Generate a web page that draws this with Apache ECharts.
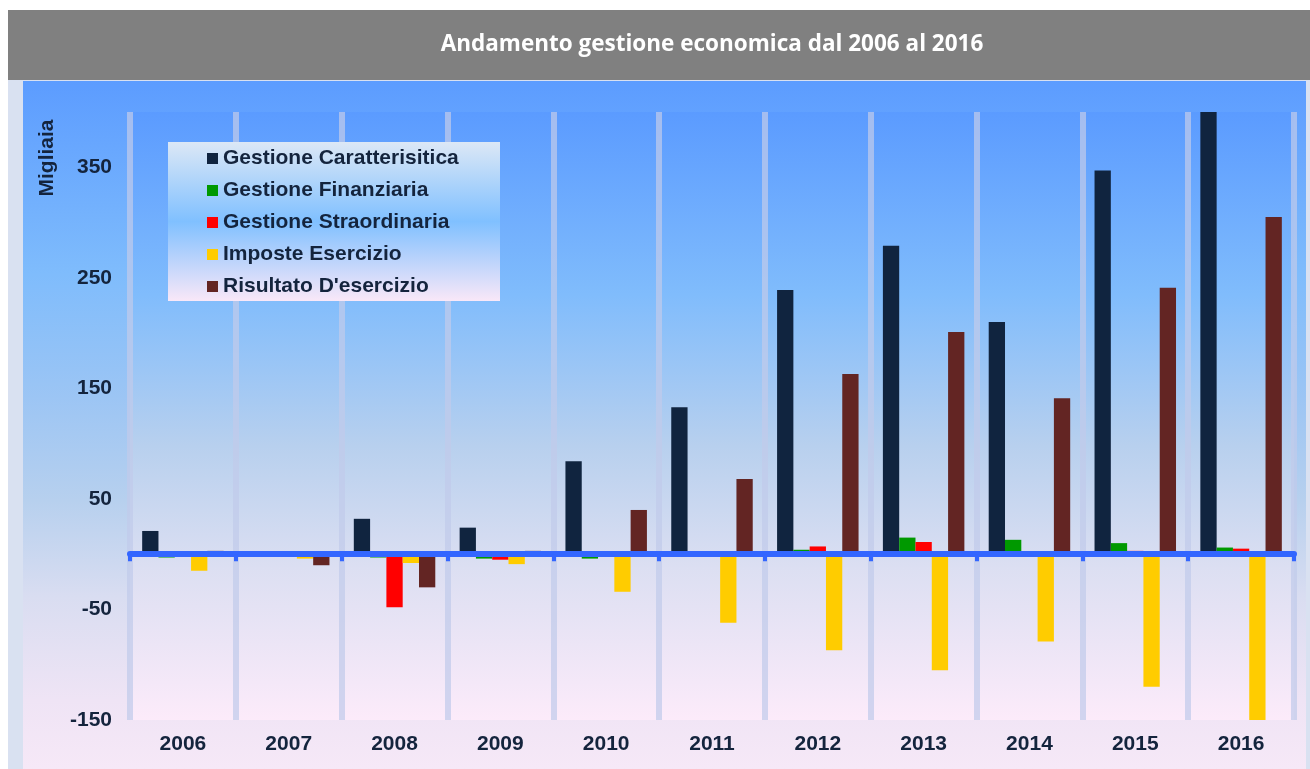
<!DOCTYPE html>
<html>
<head>
<meta charset="utf-8">
<script src="https://cdn.jsdelivr.net/npm/echarts@6/dist/echarts.min.js"></script>
<style>
html,body{margin:0;padding:0;background:#ffffff;}
#main{width:1310px;height:769px;}
</style>
</head>
<body>
<div id="main"></div>
<script>
var categories = ['2006','2007','2008','2009','2010','2011','2012','2013','2014','2015','2016'];
var gestioneCaratteristica = [21, -2, 32, 24, 84, 133, 239, 279, 210, 347, 440];
var gestioneFinanziaria   = [-3, -2, -3, -4, -4, -1, 4, 15, 13, 10, 6];
var gestioneStraordinaria = [0, 0, -48, -5, -1, 0, 7, 11, -2, 3, 5];
var imposteEsercizio      = [-15, -4, -8, -9, -34, -62, -87, -105, -79, -120, -150];
var risultatoEsercizio    = [3, -10, -30, 3, 40, 68, 163, 201, 141, 241, 305];
var seriesNames = ['Gestione Caratterisitica','Gestione Finanziaria','Gestione Straordinaria','Imposte Esercizio','Risultato D\'esercizio'];
var seriesColors = ['#10243f','#009900','#ff0000','#ffcc00','#632523'];
var yTicks = { min: -150, max: 400, interval: 100 };

var chart = echarts.init(document.getElementById('main'));
var FONT = '"Liberation Sans", Arial, sans-serif';
var TXT = '#14243d';
var seriesData = [gestioneCaratteristica, gestioneFinanziaria, gestioneStraordinaria, imposteEsercizio, risultatoEsercizio];

function lg(stops){
  return new echarts.graphic.LinearGradient(0,0,0,1, stops.map(function(s){return {offset:s[0], color:s[1]};}));
}

var option = {
  animation: false,
  backgroundColor: '#ffffff',
  graphic: [
    { type:'rect', z:-10, shape:{x:8,y:10,width:1302,height:70}, style:{fill:'#808080'} },
    { type:'rect', z:-10, shape:{x:8,y:80,width:1302,height:689}, style:{fill:'#d9e1f1'} },
    { type:'rect', z:-9, shape:{x:23,y:81,width:1283,height:688}, style:{fill: lg([
        [0,'#5c9cff'],[0.28,'#7fbcfc'],[0.46,'#9cc5f4'],[0.61,'#b7d0ee'],[0.75,'#d9ddf1'],[0.9,'#efe4f5'],[1,'#f6e8f7']
      ])} },
    { type:'text', z:10, x:712, y:45, style:{text:'Andamento gestione economica dal 2006 al 2016', align:'center', verticalAlign:'middle', fill:'#ffffff', font:'bold 22.5px "Open Sans", "Liberation Sans", sans-serif'} },
    { type:'text', z:10, x:47, y:158, rotation:Math.PI/2, style:{text:'Migliaia', align:'center', verticalAlign:'middle', fill:TXT, font:'bold 21px ' + FONT} },
    { type:'rect', z:3, shape:{x:168,y:142,width:332,height:159}, style:{fill: lg([
        [0,'#dce8f6'],[0.5,'#80c0ff'],[1,'#f9e8f8']
      ])} }
  ],
  legend: {
    orient: 'vertical',
    left: 207,
    top: 148,
    padding: 0,
    z: 6,
    itemWidth: 11,
    itemHeight: 11,
    itemGap: 11,
    icon: 'rect',
    textStyle: { fontFamily: FONT, fontWeight: 'bold', fontSize: 21, color: TXT },
    data: seriesNames
  },
  grid: {
    left: 130, right: 16, top: 112, bottom: 49,
    show: true, borderWidth: 0,
    backgroundColor: lg([[0,'#5b9bff'],[0.3,'#80bcfc'],[0.55,'#b8d0ee'],[0.75,'#dcdff2'],[1,'#fcebfa']])
  },
  xAxis: [
    {
      type: 'category',
      data: categories,
      position: 'bottom',
      axisLine: { show: false, onZero: false },
      axisTick: { show: false },
      axisLabel: { margin: 14, fontFamily: FONT, fontWeight: 'bold', fontSize: 21, color: TXT },
      splitLine: { show: true, lineStyle: { color: 'rgba(192,202,234,0.72)', width: 6 } }
    },
    {
      type: 'category',
      data: categories,
      position: 'top',
      z: 10,
      axisLine: { show: true, onZero: true, lineStyle: { color: '#3366ff', width: 6 } },
      axisTick: { show: true, inside: true, length: 7, lineStyle: { color: '#3366ff', width: 4 } },
      axisLabel: { show: false },
      splitLine: { show: false }
    }
  ],
  yAxis: {
    type: 'value',
    min: yTicks.min, max: yTicks.max, interval: yTicks.interval,
    axisLine: { show: false },
    axisTick: { show: false },
    splitLine: { show: false },
    axisLabel: { showMaxLabel: false, margin: 18, fontFamily: FONT, fontWeight: 'bold', fontSize: 21, color: TXT }
  },
  series: seriesNames.map(function(name, i){
    return {
      name: name,
      type: 'bar',
      xAxisIndex: 0,
      data: seriesData[i],
      barGap: '0%',
      barCategoryGap: '23%',
      clip: true,
      itemStyle: { color: seriesColors[i] }
    };
  })
};
chart.setOption(option);
</script>
</body>
</html>
